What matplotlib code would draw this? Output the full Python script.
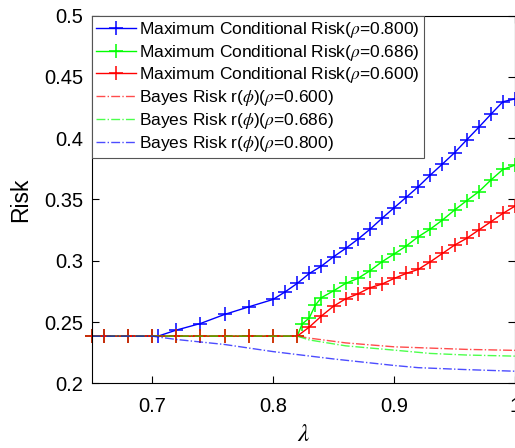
import matplotlib
matplotlib.use('Agg')
import matplotlib.pyplot as plt

plt.rcParams['font.family'] = ['Liberation Sans', 'DejaVu Sans']
plt.rcParams['mathtext.fontset'] = 'stix'

# Maximum conditional risk curves
lam_blue = [0.65, 0.66, 0.68, 0.70, 0.705, 0.72, 0.74, 0.76, 0.78, 0.80,
            0.81, 0.82, 0.83, 0.84, 0.85, 0.86, 0.87, 0.88, 0.89, 0.90,
            0.91, 0.92, 0.93, 0.94, 0.95, 0.96, 0.97, 0.98, 0.99, 1.00]
risk_blue = [0.2386, 0.2386, 0.2386, 0.2386, 0.2386, 0.2435, 0.2489, 0.2563, 0.2625, 0.2685,
             0.2747, 0.2816, 0.2897, 0.2957, 0.3033, 0.3101, 0.3175, 0.3256, 0.3346, 0.3432,
             0.3517, 0.3604, 0.3699, 0.3789, 0.3881, 0.3985, 0.4088, 0.4194, 0.4297, 0.4320]

lam_green = [0.65, 0.66, 0.68, 0.70, 0.72, 0.74, 0.76, 0.78, 0.80, 0.82,
             0.824, 0.83, 0.835, 0.84, 0.85, 0.86, 0.87, 0.88, 0.89, 0.90,
             0.91, 0.92, 0.93, 0.94, 0.95, 0.96, 0.97, 0.98, 0.99, 1.00]
risk_green = [0.2386, 0.2386, 0.2386, 0.2386, 0.2386, 0.2386, 0.2386, 0.2386, 0.2386, 0.2386,
              0.2484, 0.2535, 0.2639, 0.2700, 0.2755, 0.2816, 0.2856, 0.2918, 0.2992, 0.3055,
              0.3120, 0.3196, 0.3259, 0.3332, 0.3414, 0.3490, 0.3563, 0.3658, 0.3745, 0.3780]

lam_red = [0.65, 0.66, 0.68, 0.70, 0.72, 0.74, 0.76, 0.78, 0.80, 0.82,
           0.83, 0.84, 0.85, 0.86, 0.87, 0.88, 0.89, 0.90, 0.91, 0.92,
           0.93, 0.94, 0.95, 0.96, 0.97, 0.98, 0.99, 1.00]
risk_red = [0.2386, 0.2386, 0.2386, 0.2386, 0.2386, 0.2386, 0.2386, 0.2386, 0.2386, 0.2386,
            0.2460, 0.2550, 0.2630, 0.2690, 0.2730, 0.2780, 0.2810, 0.2856, 0.2897, 0.2930,
            0.2992, 0.3060, 0.3128, 0.3183, 0.3251, 0.3318, 0.3387, 0.3446]

# Bayes risk curves
lam_bayes_red = [0.65, 0.82, 0.83, 0.86, 0.90, 0.96, 1.00]
bayes_red = [0.2386, 0.2386, 0.2370, 0.2331, 0.2299, 0.2278, 0.2270]
lam_bayes_green = [0.65, 0.82, 0.83, 0.86, 0.90, 0.93, 0.96, 1.00]
bayes_green = [0.2386, 0.2386, 0.2355, 0.2307, 0.2272, 0.2245, 0.2232, 0.2223]
lam_bayes_blue = [0.65, 0.70, 0.72, 0.76, 0.80, 0.85, 0.90, 0.92, 0.96, 1.00]
bayes_blue = [0.2386, 0.2386, 0.2359, 0.2318, 0.2260, 0.2200, 0.2147, 0.2129, 0.2113, 0.2100]

xticks = [0.7, 0.8, 0.9, 1.0]
xtick_labels = ['0.7', '0.8', '0.9', '1']
yticks = [0.2, 0.25, 0.3, 0.35, 0.4, 0.45, 0.5]
ytick_labels = ['0.2', '0.25', '0.3', '0.35', '0.4', '0.45', '0.5']

fig = plt.figure(figsize=(5.15, 4.48), dpi=100)
ax = fig.add_axes([0.1777, 0.144, 0.8223, 0.8214])

mk = dict(marker='+', markersize=10, markeredgewidth=1.1, linewidth=1.0, clip_on=False)
ax.plot(lam_blue, risk_blue, color='blue', label=r'Maximum Conditional Risk($\rho$=0.800)', **mk)
ax.plot(lam_green, risk_green, color='#00ff00', label=r'Maximum Conditional Risk($\rho$=0.686)', **mk)
ax.plot(lam_red, risk_red, color='red', label=r'Maximum Conditional Risk($\rho$=0.600)', **mk)

ax.plot(lam_bayes_red, bayes_red, '-.', color='red', alpha=0.7, linewidth=1.0,
        label=r'Bayes Risk r($\phi$)($\rho$=0.600)')
ax.plot(lam_bayes_green, bayes_green, '-.', color='#00ff00', alpha=0.7, linewidth=1.0,
        label=r'Bayes Risk r($\phi$)($\rho$=0.686)')
ax.plot(lam_bayes_blue, bayes_blue, '-.', color='blue', alpha=0.7, linewidth=1.0,
        label=r'Bayes Risk r($\phi$)($\rho$=0.800)')

ax.set_xlim(0.65, 1.0)
ax.set_ylim(0.2, 0.5)
ax.set_xticks(xticks)
ax.set_xticklabels(xtick_labels)
ax.set_yticks(yticks)
ax.set_yticklabels(ytick_labels)
ax.tick_params(direction='in', length=5, width=0.8, labelsize=14.5, top=True, right=True)
ax.tick_params(axis='x', pad=10)
ax.tick_params(axis='y', pad=6)
for s in ax.spines.values():
    s.set_linewidth(0.8)

ax.set_xlabel(r'$\lambda$', fontsize=18)
ax.set_ylabel('Risk', fontsize=16.5)
ax.xaxis.set_label_coords(0.5, -0.104)
ax.yaxis.set_label_coords(-0.1405, 0.5)

leg = ax.legend(loc='upper left', bbox_to_anchor=(0, 1), borderaxespad=0, fontsize=12.5,
                fancybox=False, framealpha=1, edgecolor='#555555', handlelength=2.3,
                labelspacing=0.16, borderpad=0.25, handletextpad=0.2)
leg.get_frame().set_linewidth(0.8)

plt.savefig('out.png', dpi=100)
